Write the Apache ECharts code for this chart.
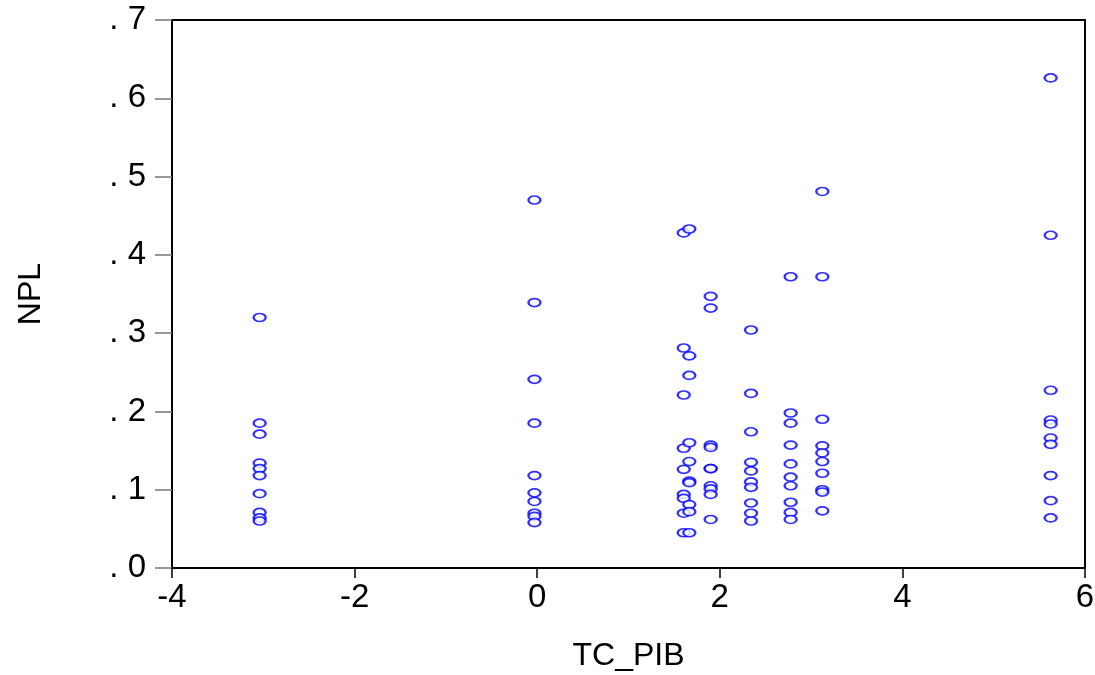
<!DOCTYPE html>
<html>
<head>
<meta charset="utf-8">
<script src="https://cdn.jsdelivr.net/npm/echarts@6/dist/echarts.min.js"></script>
<style>
  html, body { margin: 0; padding: 0; background: #fff; }
  .main { width: 1095px; height: 675px; }
</style>
</head>
<body>
<div class="main"></div>
<script>
// TC_PIB value of each column of points
var tcPib = [-3.04, -0.03, 1.605, 1.666, 1.90, 2.342, 2.776, 3.123, 5.624];

// NPL values for each column
var npl1 = [0.320, 0.185, 0.171, 0.134, 0.127, 0.118, 0.095, 0.071, 0.064, 0.060];
var npl2 = [0.470, 0.339, 0.241, 0.185, 0.118, 0.096, 0.085, 0.070, 0.066, 0.058];
var npl3 = [0.428, 0.281, 0.221, 0.153, 0.126, 0.094, 0.089, 0.070, 0.045];
var npl4 = [0.433, 0.271, 0.246, 0.160, 0.136, 0.111, 0.109, 0.081, 0.072, 0.045];
var npl5 = [0.347, 0.332, 0.157, 0.154, 0.127, 0.127, 0.105, 0.101, 0.094, 0.062];
var npl6 = [0.304, 0.223, 0.174, 0.135, 0.124, 0.110, 0.103, 0.083, 0.070, 0.060];
var npl7 = [0.372, 0.198, 0.185, 0.157, 0.133, 0.116, 0.105, 0.084, 0.071, 0.062];
var npl8 = [0.481, 0.372, 0.190, 0.156, 0.147, 0.136, 0.121, 0.100, 0.097, 0.073];
var npl9 = [0.626, 0.425, 0.227, 0.189, 0.184, 0.166, 0.158, 0.118, 0.086, 0.064];

var nplGroups = [npl1, npl2, npl3, npl4, npl5, npl6, npl7, npl8, npl9];

var points = [];
nplGroups.forEach(function (ys, i) {
  ys.forEach(function (y) { points.push([tcPib[i], y]); });
});

var font = 'Liberation Sans, Arial, sans-serif';

var myChart = echarts.init(document.querySelector('.main'));
myChart.setOption({
  animation: false,
  grid: {
    left: 172, right: 10, top: 20, bottom: 107,
    containLabel: false,
    outerBoundsMode: 'none',
    show: true, borderColor: '#000', borderWidth: 2
  },
  xAxis: {
    type: 'value',
    min: -4, max: 6, interval: 2,
    name: 'TC_PIB',
    nameLocation: 'middle',
    nameGap: 72,
    nameTextStyle: { fontFamily: font, fontSize: 32, color: '#000' },
    axisLine: { show: true, onZero: false, lineStyle: { color: '#000', width: 2 } },
    axisTick: { show: true, length: 10, lineStyle: { color: '#000', width: 1.5 } },
    axisLabel: { fontFamily: font, fontSize: 33, color: '#000', margin: 13 },
    splitLine: { show: false }
  },
  yAxis: {
    type: 'value',
    min: 0, max: 0.7, interval: 0.1,
    name: 'NPL',
    nameLocation: 'middle',
    nameGap: 125,
    nameTextStyle: { fontFamily: font, fontSize: 32, color: '#000' },
    axisLine: { show: true, onZero: false, lineStyle: { color: '#000', width: 2 } },
    axisTick: { show: true, length: 17, lineStyle: { color: '#777', width: 1.5 } },
    axisLabel: {
      fontFamily: font, fontSize: 33, color: '#000', margin: 26,
      formatter: function (v) { return v.toFixed(1).replace(/^0\./, '. '); }
    },
    splitLine: { show: false }
  },
  series: [
    {
      type: 'scatter',
      data: points,
      symbol: 'emptyCircle',
      symbolSize: [12, 8],
      itemStyle: { color: '#0000ff', borderColor: '#0000ff', borderWidth: 2 }
    }
  ]
});
</script>
</body>
</html>
